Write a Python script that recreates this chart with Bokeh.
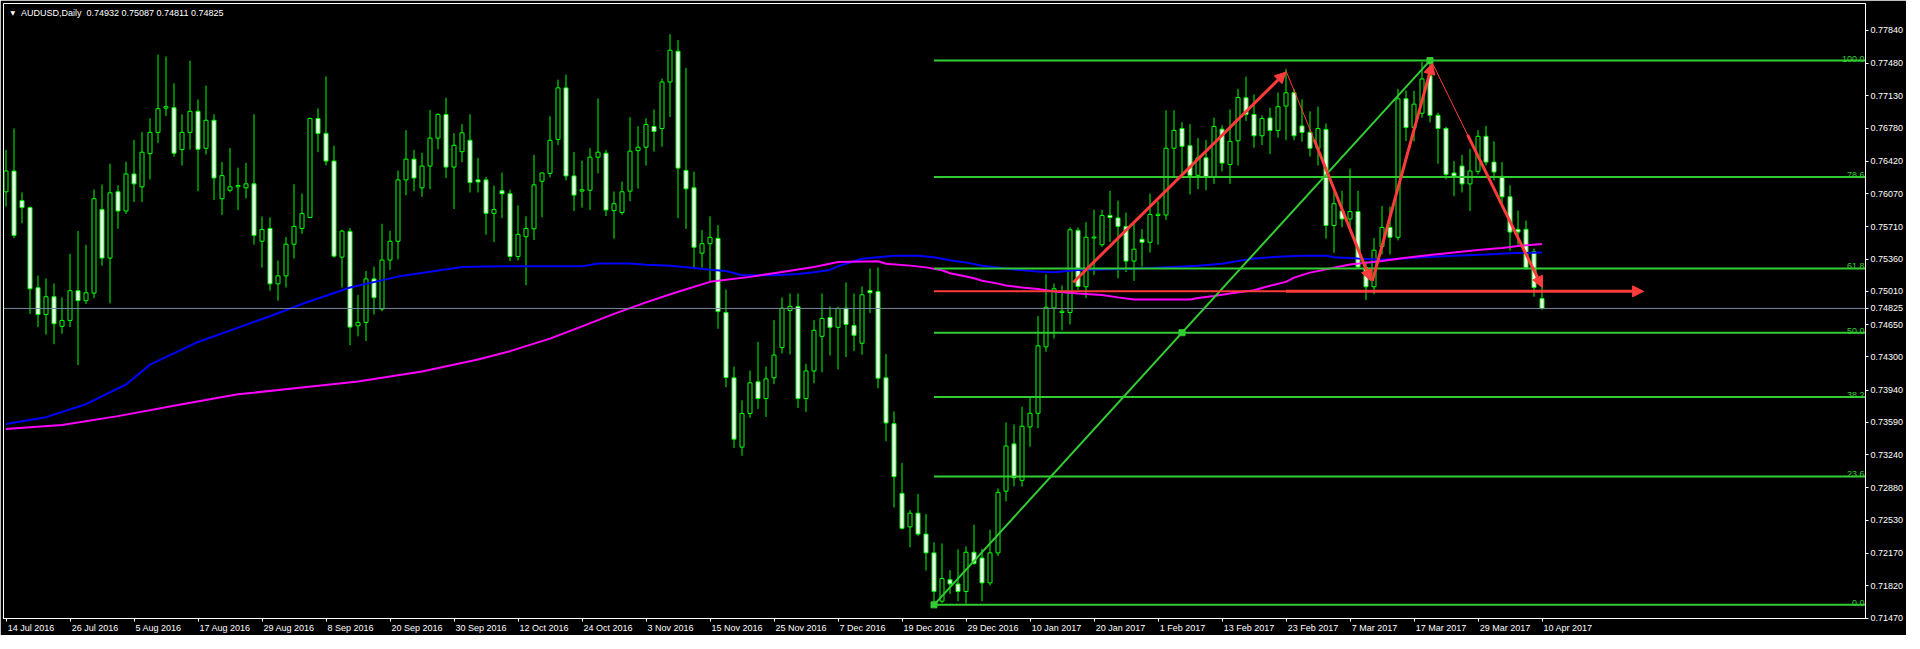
from bokeh.plotting import figure
from bokeh.models import (Range1d, FixedTicker, NumeralTickFormatter, LinearAxis,
                          Arrow, NormalHead, ColumnDataSource, Span)
from bokeh.core.properties import value
from bokeh.embed import file_html
from bokeh.resources import INLINE

# ---------------- data ----------------
symbol = "AUDUSD,Daily"

opens = [
    .76089, .76314, .75993, .75918, .75049, .74759, .74952, .74631, .74695, .75017,
    .74909, .74991, .75896, .75371, .76089, .75881, .76282, .76143, .76503, .76733,
    .76996, .77000, .76546, .76733, .76961, .76561, .76864, .76014, .76106, .76143,
    .76132, .76175, .75553, .75692, .75092, .75178, .75521, .75692, .75810, .76883,
    .76722, .76422, .75381, .75660, .74637, .74674, .75145, .74819, .75349, .75553,
    .76218, .76443, .76132, .76368, .76671, .76926, .76357, .76524, .76647, .76218,
    .76218, .75856, .76100, .76068, .75388, .75602, .75688, .76203, .76289, .76657,
    .77215, .76261, .76096, .76106, .76464, .76507, .75885, .75864, .76096, .76535,
    .76572, .76797, .76775, .77279, .77612, .76321, .76132, .75424, .75527, .75585,
    .74781, .74073, .73322, .73687, .74030, .73848, .74073, .74401, .74802, .74845,
    .73848, .74148, .74523, .74727, .74620, .74828, .74640, .74448, .75019, .75007,
    .74073, .73576, .72821, .72458, .72606, .72380, .72176, .71652, .71886, .71839,
    .71758, .72183, .72121, .71851, .72176, .72845, .73357, .72962, .73541, .73689,
    .74409, .74830, .74781, .74781, .75671, .75060, .75588, .75516, .75832, .75806,
    .75714, .75338, .75574, .75542, .75832, .75838, .76561, .76775, .76589, .76267,
    .76457, .76250, .76768, .76385, .76642, .77108, .76926, .76696, .76889, .76754,
    .77018, .77162, .76803, .76733, .76561, .76765, .75724, .75881, .75795, .75875,
    .75267, .75060, .75495, .75703, .75596, .77097, .76786, .76940, .77347, .76918,
    .76775, .76293, .76368, .76175, .76310, .76690, .76411, .76256, .76035, .75682,
    .75682, .75438, .74932]

highs = [
    .76543, .76775, .76082, .75930, .75181, .75149, .75095, .74945, .75417, .75663,
    .75513, .76114, .76167, .76393, .76160, .76414, .76650, .76736, .76886, .77575,
    .77554, .77264, .76929, .77508, .77090, .77240, .76929, .76411, .76564, .76350,
    .76403, .76929, .75821, .75813, .75345, .75599, .76171, .76071, .76893, .76993,
    .77340, .76589, .75677, .75696, .74970, .75231, .75277, .75742, .75667, .76318,
    .76757, .76543, .76511, .76975, .76940, .77108, .76725, .76822, .76929, .76457,
    .76250, .76157, .76296, .76111, .75942, .75824, .76489, .76300, .76907, .77304,
    .77358, .76521, .76425, .76561, .77100, .76543, .76092, .76200, .76897, .76800,
    .76886, .76982, .77315, .77797, .77733, .77433, .76307, .75674, .75824, .75728,
    .75031, .74194, .73830, .74151, .74462, .74194, .74698, .74945, .74988, .74988,
    .74226, .74698, .74988, .74848, .74845, .75106, .74988, .75063, .75258, .75270,
    .74330, .73709, .73150, .72641, .72813, .72598, .72290, .72278, .71988, .72215,
    .72247, .72480, .72219, .72426, .72875, .73588, .73568, .73760, .73862, .74741,
    .75195, .75095, .75074, .75703, .75703, .75760, .75896, .75892, .76100, .75993,
    .75864, .75738, .75685, .76071, .75988, .76972, .76972, .76843, .76822, .76671,
    .76650, .76893, .76811, .76982, .77204, .77336, .77143, .76918, .77000, .77165,
    .77419, .77204, .77090, .76961, .77011, .76829, .76085, .76100, .76339, .76100,
    .75338, .75588, .75935, .75928, .77204, .77186, .77183, .77497, .77511, .76947,
    .76793, .76422, .76489, .76553, .76757, .76803, .76636, .76411, .76160, .75885,
    .75778, .75474, .75087]

lows = [
    .75928, .75588, .75749, .74766, .74623, .74541, .74438, .74551, .74623, .74212,
    .74873, .74937, .75288, .74881, .75688, .75849, .75978, .75978, .76224, .76618,
    .76911, .76471, .76374, .76546, .76096, .76492, .75999, .75838, .76082, .75892,
    .76017, .75516, .75267, .75017, .74909, .75052, .75366, .75634, .75803, .76518,
    .76374, .75374, .75052, .74427, .74523, .74473, .74759, .74795, .75242, .75356,
    .76053, .76096, .76035, .76117, .76550, .76239, .75903, .76411, .76082, .76082,
    .75624, .75545, .75803, .75338, .75345, .75077, .75567, .75813, .76246, .76596,
    .76213, .75881, .75918, .75892, .76289, .75827, .75581, .75838, .75988, .76124,
    .76374, .76524, .76578, .76900, .75803, .75688, .75267, .75267, .75124, .74605,
    .73972, .73312, .73229, .73640, .73736, .73650, .74004, .74337, .74326, .73747,
    .73704, .74015, .74133, .74315, .74165, .74299, .74363, .74323, .74776, .73959,
    .73385, .72668, .72430, .72238, .72356, .71984, .71613, .71632, .71730, .71652,
    .71625, .72047, .71652, .71824, .72141, .72735, .72895, .72895, .73326, .73529,
    .74355, .74498, .74588, .74652, .75027, .74937, .75188, .75492, .75545, .75152,
    .75220, .75124, .75277, .75431, .75516, .75785, .76250, .76250, .76060, .76117,
    .76106, .76175, .76310, .76175, .76374, .76857, .76567, .76596, .76500, .76675,
    .76648, .76648, .76632, .76471, .76374, .75581, .75427, .75706, .75653, .75260,
    .74916, .74980, .75409, .75409, .75563, .76639, .76636, .76893, .76840, .76393,
    .76224, .76042, .76082, .75881, .76278, .76374, .76213, .75964, .75452, .75516,
    .75245, .74952, .74811]

closes = [
    .76314, .75617, .75918, .75038, .74759, .74952, .74659, .74695, .75017, .74909,
    .74995, .76014, .75371, .76078, .75881, .76282, .76175, .76518, .76733, .76990,
    .77011, .76507, .76733, .76961, .76550, .76864, .76239, .76264, .76143, .76157,
    .76175, .75617, .75682, .75092, .75178, .75521, .75714, .75853, .76883, .76722,
    .76422, .75392, .75663, .74623, .74674, .75145, .74942, .75349, .75553, .76218,
    .76443, .76239, .76368, .76671, .76926, .76357, .76593, .76728, .76189, .76196,
    .75856, .75896, .76068, .75388, .75628, .75692, .76164, .76293, .76647, .77215,
    .76261, .76053, .76111, .76464, .76518, .75892, .75960, .76089, .76529, .76572,
    .76818, .76743, .77279, .77623, .76346, .76121, .75488, .75527, .75596, .74791,
    .74076, .73408, .73687, .74019, .73848, .74062, .74320, .74827, .74848, .73848,
    .74148, .74588, .74716, .74620, .74824, .74652, .74534, .74973, .74995, .74069,
    .73584, .73002, .72442, .72606, .72380, .72176, .71758, .71898, .71839, .71758,
    .72183, .72062, .71851, .72176, .72832, .73334, .72990, .73549, .73689, .74420,
    .74838, .75038, .74795, .75677, .75063, .75596, .75599, .75832, .75810, .75714,
    .75338, .75467, .75542, .75842, .75846, .76561, .76754, .76582, .76267, .76457,
    .76250, .76797, .76400, .76636, .77111, .76926, .76696, .76883, .76754, .77011,
    .77162, .76696, .76733, .76561, .76775, .75724, .75960, .75795, .75875, .75274,
    .75060, .75456, .75703, .75596, .77097, .76786, .77039, .77312, .76918, .76775,
    .76278, .76261, .76175, .76314, .76690, .76411, .76304, .76035, .75653, .75653,
    .75267, .75052, .74825]

# blue moving average (bar index, value)
ma_blue_bar = [0, 5, 10, 15, 18, 24, 33, 37, 43, 49, 57, 62, 72, 74, 78, 80, 83, 86, 88, 90,
               92, 96, 99, 101, 103, 104, 107, 111, 114, 116, 118, 120, 122, 124, 126, 129,
               131, 134, 141, 146, 149, 152, 154, 156, 159, 162, 165, 166, 169, 172, 174,
               177, 181, 185, 188, 192]
ma_blue = [.73572, .73647, .73787, .74001, .74216, .74462, .74741, .74873, .75052, .75170,
           .75274, .75281, .75281, .75313, .75313, .75299, .75288, .75263, .75245, .75231,
           .75184, .75184, .75199, .75216, .75242, .75283, .75363, .75395, .75395, .75379,
           .75348, .75324, .75288, .75270, .75246, .75224, .75216, .75242, .75256, .75274,
           .75288, .75309, .75338, .75366, .75385, .75395, .75395, .75381, .75366, .75352,
           .75363, .75381, .75395, .75409, .75424, .75431]

# magenta moving average (bar index, value)
ma_mag_bar = [0, 7, 14, 22, 29, 37, 44, 52, 59, 63, 68, 72, 76, 80, 84, 88, 93, 97, 101, 104,
              109, 110, 113, 115, 117, 118, 120, 121, 122, 124, 125, 127, 129, 131, 134, 137,
              139, 141, 148, 149, 151, 153, 156, 158, 160, 161, 163, 166, 168, 172, 175, 178,
              181, 184, 187, 189, 192]
ma_mag = [.73519, .73561, .73658, .73787, .73894, .73969, .74033, .74141, .74272, .74362,
          .74498, .74631, .74766, .74891, .75006, .75113, .75167, .75221, .75274, .75328,
          .75336, .75309, .75289, .75270, .75239, .75206, .75172, .75152, .75125, .75094,
          .75074, .75051, .75035, .75009, .74988, .74970, .74945, .74923, .74923, .74937,
          .74959, .74988, .75023, .75070, .75113, .75159, .75213, .75267, .75302, .75338,
          .75374, .75403, .75431, .75459, .75481, .75502, .75524]

# Fibonacci retracement: anchor bars (low, high) and levels
fib_bar_low, fib_bar_high = 116, 178
fib_levels = [0.0, 23.6, 38.2, 50.0, 61.8, 78.6, 100.0]

# red drawn arrows (thick, with heads): start bar, start price, end bar, end price
arr_x0 = [133.4, 163.5, 170.8, 182.7, 160.0]
arr_y0 = [.75106, .76659, .75124, .76705, .75010]
arr_x1 = [160.0, 170.6, 178.3, 192.05, 204.7]
arr_y1 = [.77387, .75124, .77483, .75052, .75010]
# thin red parts
thin_x0 = [160.0, 178.3, 116.0]
thin_y0 = [.77400, .77483, .75010]
thin_x1 = [163.5, 182.7, 160.0]
thin_y1 = [.76659, .76705, .75010]
thin_w = [1, 1, 2]

# axis tick labels
y_ticks = [0.77840, 0.77480, 0.77130, 0.76780, 0.76420, 0.76070, 0.75710, 0.75360, 0.75010,
           0.74650, 0.74300, 0.73940, 0.73590, 0.73240, 0.72880, 0.72530, 0.72170, 0.71820,
           0.71470]
date_labels = ["14 Jul 2016", "26 Jul 2016", "5 Aug 2016", "17 Aug 2016", "29 Aug 2016",
               "8 Sep 2016", "20 Sep 2016", "30 Sep 2016", "12 Oct 2016", "24 Oct 2016",
               "3 Nov 2016", "15 Nov 2016", "25 Nov 2016", "7 Dec 2016", "19 Dec 2016",
               "29 Dec 2016", "10 Jan 2017", "20 Jan 2017", "1 Feb 2017", "13 Feb 2017",
               "23 Feb 2017", "7 Mar 2017", "17 Mar 2017", "29 Mar 2017", "10 Apr 2017"]
date_label_bars = list(range(0, 8 * len(date_labels), 8))

# ---------------- layout / styles ----------------
FONT = "Liberation Sans"
FS = "9px"
CANDLE = "#00FF00"
FIB = "#32CD32"
RED = "#FF3B3B"
PX_BAR = 8.0
FRAME_W, FRAME_H = 1862, 615
x_start = -0.3125
x_end = x_start + FRAME_W / PX_BAR
y_top = 0.7812954
y_bot = 0.71465

p = figure(frame_width=FRAME_W, frame_height=FRAME_H,
           x_range=Range1d(x_start, x_end), y_range=Range1d(y_bot, y_top),
           output_backend="svg", toolbar_location=None, y_axis_location="right",
           background_fill_color="black", border_fill_color="black",
           outline_line_color="white", outline_line_width=1,
           min_border_left=3, min_border_top=3, min_border_right=0, min_border_bottom=0)
p.grid.visible = False

# price axis (also shows the current price)
ya = p.yaxis[0]
ya.ticker = FixedTicker(ticks=y_ticks + [closes[-1]])
ya.formatter = NumeralTickFormatter(format="0.00000")
ya.axis_line_color = "white"
ya.major_tick_line_color = "white"
ya.major_tick_in = 0
ya.major_tick_out = 3
ya.minor_tick_line_color = None
ya.major_label_text_color = "white"
ya.major_label_text_font = FONT
ya.major_label_text_font_size = FS
ya.major_label_standoff = 2

# time axis: tick marks only
xa = p.xaxis[0]
xa.ticker = FixedTicker(ticks=date_label_bars)
xa.axis_line_color = "white"
xa.major_tick_line_color = "white"
xa.major_tick_in = 0
xa.major_tick_out = 3
xa.minor_tick_line_color = None
xa.major_label_text_color = None
xa.major_label_text_font_size = "1px"
xa.major_label_standoff = 0

# time axis: labels starting right of each tick (MT4 style)
CW = {'0': .556, '1': .556, '2': .556, '3': .556, '4': .556, '5': .556, '6': .556, '7': .556,
      '8': .556, '9': .556, ' ': .278, 'A': .667, 'D': .722, 'F': .611, 'J': .5, 'M': .833,
      'N': .722, 'O': .778, 'S': .667, 'a': .556, 'b': .556, 'c': .5, 'e': .556, 'g': .556,
      'l': .222, 'n': .556, 'o': .556, 'p': .556, 'r': .333, 't': .278, 'u': .556, 'v': .5,
      'y': .5}
lab_pos, lab_over = [], {}
for b, s in zip(date_label_bars, date_labels):
    w = sum(CW.get(ch, .556) for ch in s) * 9.0
    pos = round((b + (1.5 + w / 2) / PX_BAR) * 16) / 16
    lab_pos.append(pos)
    lab_over[pos] = s
xb = LinearAxis(ticker=FixedTicker(ticks=lab_pos), major_label_overrides=lab_over,
                axis_line_color=None, major_tick_line_color=None, minor_tick_line_color=None,
                major_tick_in=0, major_tick_out=0, major_label_standoff=1,
                major_label_text_color="white", major_label_text_font=FONT,
                major_label_text_font_size=FS)
p.add_layout(xb, "below")

# candles
n = len(opens)
src = ColumnDataSource(dict(
    x=list(range(n)), h=highs, l=lows,
    top=[max(o, c) for o, c in zip(opens, closes)],
    bot=[min(o, c) for o, c in zip(opens, closes)],
    fill=["black" if c >= o else "white" for o, c in zip(opens, closes)]))
p.segment(x0="x", y0="h", x1="x", y1="l", source=src, line_color=CANDLE, line_width=1)
p.vbar(x="x", width=0.5, top="top", bottom="bot", source=src,
       fill_color="fill", line_color=CANDLE, line_width=1)

# bid line
p.add_layout(Span(location=closes[-1], dimension="width", line_color="#778899", line_width=1))

# moving averages
p.line(ma_blue_bar, ma_blue, line_color="#0000FF", line_width=2)
p.line(ma_mag_bar, ma_mag, line_color="#FF00FF", line_width=2)

# fibonacci
f_lo = lows[fib_bar_low]
f_hi = highs[fib_bar_high]
lvl_price = [f_lo + (f_hi - f_lo) * L / 100.0 for L in fib_levels]
p.segment(x0=[fib_bar_low] * len(fib_levels), y0=lvl_price,
          x1=[x_end] * len(fib_levels), y1=lvl_price, line_color=FIB, line_width=2)
p.line([fib_bar_low, fib_bar_high], [f_lo, f_hi], line_color=FIB, line_width=2)
p.scatter([fib_bar_low, (fib_bar_low + fib_bar_high) / 2, fib_bar_high],
          [f_lo, (f_lo + f_hi) / 2, f_hi], marker="square", size=6,
          fill_color=FIB, line_color=FIB)
p.text(x=[x_end] * len(fib_levels), y=lvl_price, text=["%.1f" % L for L in fib_levels],
       x_offset=-1, y_offset=-2, text_align="right", text_baseline="alphabetic",
       text_color=FIB, text_font=value(FONT), text_font_size=FS)

# red drawings
p.segment(x0=thin_x0, y0=thin_y0, x1=thin_x1, y1=thin_y1, line_color=RED, line_width=thin_w)
asrc = ColumnDataSource(dict(x0=arr_x0, y0=arr_y0, x1=arr_x1, y1=arr_y1))
p.add_layout(Arrow(source=asrc, x_start="x0", y_start="y0", x_end="x1", y_end="y1",
                   line_color=RED, line_width=3,
                   end=NormalHead(size=11, fill_color=RED, line_color=RED)))

# title
title = "%s\u00a0\u00a0%.5f %.5f %.5f %.5f" % (symbol, opens[-1], highs[-1], lows[-1], closes[-1])
p.text(x=[x_start], y=[y_top], text=["\u25bc"], x_offset=7, y_offset=9,
       text_baseline="middle", text_color="white", text_font=value("DejaVu Sans"),
       text_font_size="6px")
p.text(x=[x_start], y=[y_top], text=[title], x_offset=17.5, y_offset=9,
       text_baseline="middle", text_color="white", text_font=value(FONT), text_font_size=FS)

open("out.html", "w").write(file_html(p, INLINE))
